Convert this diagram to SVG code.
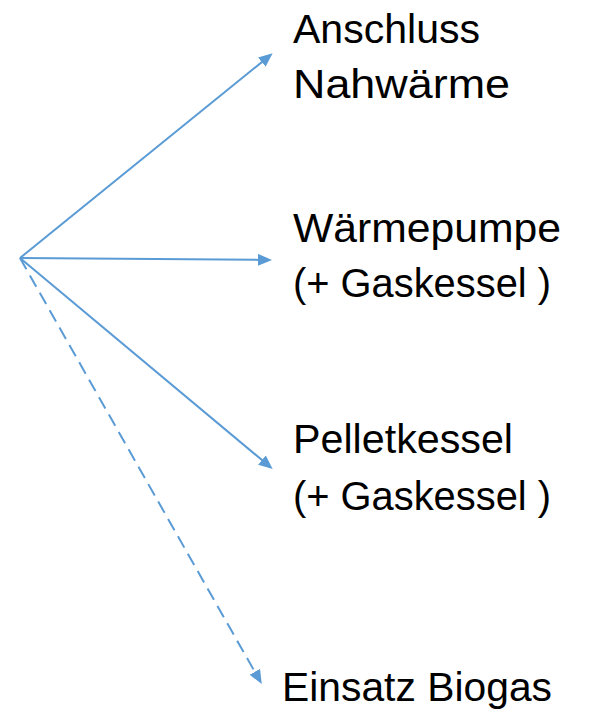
<svg xmlns="http://www.w3.org/2000/svg" width="589" height="709" viewBox="0 0 589 709">
  <style>
    .conn { stroke: #5B9BD5; stroke-width: 2; fill: none; }
    .dash { stroke-dasharray: 13 7; }
    .lbl { font-family: "Liberation Sans", Arial, sans-serif; font-size: 41px; fill: #000; }
  </style>
  <defs>
    <marker id="arr" markerUnits="userSpaceOnUse" markerWidth="14" markerHeight="12" refX="4" refY="6" orient="auto">
      <path d="M0,0 L14,6 L0,12 z" fill="#5B9BD5"/>
    </marker>
  </defs>
  <rect width="589" height="709" fill="#fff"/>
  <g id="connectors">
    <line class="conn" x1="20" y1="258" x2="264.9" y2="59.6" marker-end="url(#arr)"/>
    <line class="conn" x1="20" y1="258" x2="262" y2="259.9" marker-end="url(#arr)"/>
    <line class="conn" x1="20" y1="258" x2="265" y2="462.6" marker-end="url(#arr)"/>
    <line class="conn dash" x1="20" y1="258" x2="256.8" y2="675.3" marker-end="url(#arr)"/>
  </g>
  <g id="node-nahwaerme">
    <text class="lbl" x="293" y="42.5" textLength="187" lengthAdjust="spacingAndGlyphs">Anschluss</text>
    <text class="lbl" x="293" y="97.5" textLength="217" lengthAdjust="spacingAndGlyphs">Nahwärme</text>
  </g>
  <g id="node-waermepumpe">
    <text class="lbl" x="293" y="241.5" textLength="268" lengthAdjust="spacingAndGlyphs">Wärmepumpe</text>
    <text class="lbl" x="293" y="296.5" textLength="258" lengthAdjust="spacingAndGlyphs">(+ Gaskessel )</text>
  </g>
  <g id="node-pellet">
    <text class="lbl" x="293" y="453" textLength="220" lengthAdjust="spacingAndGlyphs">Pelletkessel</text>
    <text class="lbl" x="293" y="510" textLength="258" lengthAdjust="spacingAndGlyphs">(+ Gaskessel )</text>
  </g>
  <g id="node-biogas">
    <text class="lbl" x="282" y="701" textLength="270" lengthAdjust="spacingAndGlyphs">Einsatz Biogas</text>
  </g>
</svg>
